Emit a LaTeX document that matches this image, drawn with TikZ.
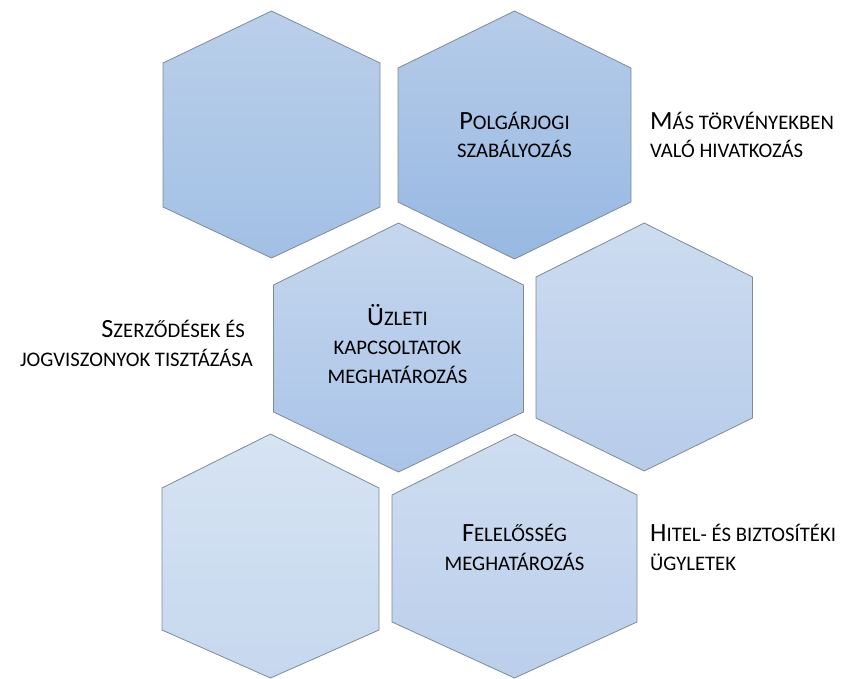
\documentclass[tikz,border=0pt]{standalone}
\usepackage{fontspec}
\setmainfont{Carlito}
\begin{document}
% capital initial for the small-caps labels
\newcommand\Ini[1]{{\fontsize{26.3}{28.8}\selectfont #1}}
% hexagon: centre x, half width, top, upper side, lower side, bottom, top colour, bottom colour
\newcommand\hexcell[8]{%
  \path[hexline, top color=#7, bottom color=#8]
    (#1,#3) -- (#1+#2,#4) -- (#1+#2,#5) -- (#1,#6) -- (#1-#2,#5) -- (#1-#2,#4) -- cycle;}
\definecolor{hAt}{HTML}{BACFEA}\definecolor{hAb}{HTML}{A2C0E5}
\definecolor{hBt}{HTML}{B6CCE9}\definecolor{hBb}{HTML}{97B8E2}
\definecolor{hCt}{HTML}{C5D7EE}\definecolor{hCb}{HTML}{A9C3E7}
\definecolor{hDt}{HTML}{CCDCF0}\definecolor{hDb}{HTML}{B7CCEA}
\definecolor{hEt}{HTML}{D6E3F3}\definecolor{hEb}{HTML}{C6D8EE}
\definecolor{hFt}{HTML}{CEDDF0}\definecolor{hFb}{HTML}{BBCFEB}
\definecolor{edge}{HTML}{7D8A98}
\begin{tikzpicture}[x=1pt, y=-1pt,
  hexline/.style={draw=edge, line width=0.8pt, line join=miter},
  label/.style={inner sep=0pt, font=\fontsize{20.7}{28.8}\selectfont, text=black}]
\useasboundingbox (0,0) rectangle (846,679);
% honeycomb cells
\hexcell{271.5}{108.5}{11}{63}{207}{258}{hAt}{hAb}
\hexcell{514.5}{116.5}{11}{68}{202}{259}{hBt}{hBb}
\hexcell{398.5}{125}{223}{285}{412}{472}{hCt}{hCb}
\hexcell{644.25}{108.25}{223}{277}{418}{471}{hDt}{hDb}
\hexcell{270.5}{108.5}{434}{488}{630}{678}{hEt}{hEb}
\hexcell{514.5}{122.5}{434}{495}{622}{678}{hFt}{hFb}
% texts inside the cells (anchored on the baseline of the last line)
\node[label, align=center, anchor=base] (polg) at (514.5,158) {\Ini{P}OLGÁRJOGI\\SZABÁLYOZÁS};
\node[label, align=center, anchor=base] (uzl) at (397.5,383.5) {\Ini{Ü}ZLETI\\KAPCSOLTATOK\\MEGHATÁROZÁS};
\node[label, align=center, anchor=base] (fel) at (514.5,570) {\Ini{F}ELELŐSSÉG\\MEGHATÁROZÁS};
% texts beside the cells
\node[label, align=left, anchor=base west] (mas) at (650,158) {\Ini{M}ÁS TÖRVÉNYEKBEN\\VALÓ HIVATKOZÁS};
\node[label, align=right, anchor=base east] (szer) at (253,366.5) {\Ini{S}ZERZŐDÉSEK ÉS\kern8pt\\JOGVISZONYOK TISZTÁZÁSA};
\node[label, align=left, anchor=base west] (hit) at (650,570) {\Ini{H}ITEL- ÉS BIZTOSÍTÉKI\\ÜGYLETEK};
\end{tikzpicture}
\end{document}
